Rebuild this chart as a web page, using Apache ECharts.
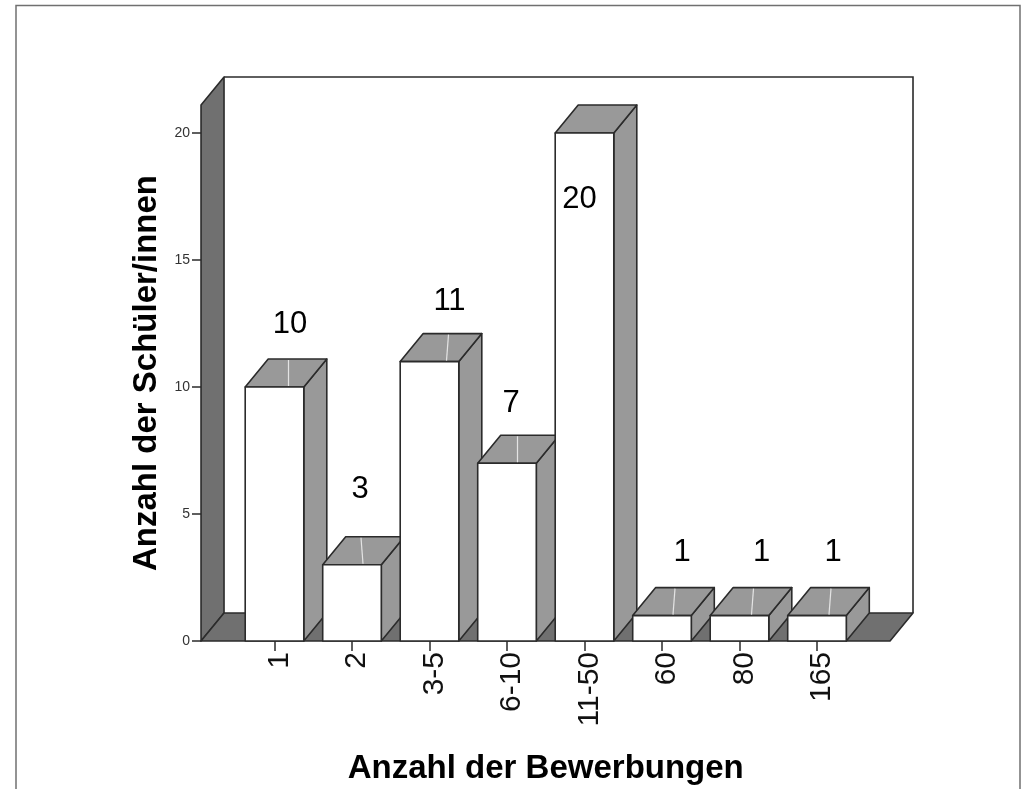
<!DOCTYPE html>
<html>
<head>
<meta charset="utf-8">
<style>
  html, body { margin: 0; padding: 0; background: #fff; }
  #chart { width: 1021px; height: 789px; }
</style>
<script src="https://cdn.jsdelivr.net/npm/echarts@6/dist/echarts.min.js"></script>
</head>
<body>
<div id="chart"></div>
<script>
var categories = ['1', '2', '3-5', '6-10', '11-50', '60', '80', '165'];
var schueler = [10, 3, 11, 7, 20, 1, 1, 1];
var yTicks = [0, 5, 10, 15, 20];
var xTitle = 'Anzahl der Bewerbungen';
var yTitle = 'Anzahl der Schüler/innen';

window.onload = function () {
    var myChart = echarts.init(document.getElementById('chart'));

    // look of the fake 3d box, all in pixels
    var depthX = 23;
    var depthY = 28;
    var wallTop = 21.1; // front edge of the wall, in axis units
    var lineColor = '#2b2b2b';
    var wallColor = '#707070';
    var faceColor = '#999999';
    var fontName = '"Liberation Sans", Arial, sans-serif';

    // nudge of each value label from the bar's front top center: dx, dy,
    // then the x of the pale leader line at the back and front of the top face
    var labelNudge = [
        [15.5, -63, 14, 14],
        [8, -75, 9, 11],
        [20, -60, 19, 17],
        [4, -60, 10.5, 10.5],
        [-5, 66, null, null],
        [20, -63, 13, 11],
        [22, -63, 14, 12],
        [16, -63, 14, 12]
    ];

    function poly(points, fill) {
        return {
            type: 'polygon',
            shape: { points: points },
            style: { fill: fill, stroke: lineColor, lineWidth: 1.6, lineJoin: 'round' }
        };
    }

    function renderBox(params, api) {
        var step = api.size([1, 0])[0];
        var y0 = api.coord([0, 0])[1];
        var yTop = api.coord([0, wallTop])[1];
        var x0 = api.coord([0, 0])[0] - step * 0.948;
        var x1 = api.coord([categories.length - 1, 0])[0] + step * 0.942;
        return {
            type: 'group',
            children: [
                // back plane
                {
                    type: 'polyline',
                    shape: { points: [[x0 + depthX, yTop - depthY], [x1 + depthX, yTop - depthY], [x1 + depthX, y0 - depthY]] },
                    style: { fill: null, stroke: lineColor, lineWidth: 1.6 }
                },
                poly([[x0, yTop], [x0 + depthX, yTop - depthY], [x0 + depthX, y0 - depthY], [x0, y0]], wallColor),
                poly([[x0, y0], [x0 + depthX, y0 - depthY], [x1 + depthX, y0 - depthY], [x1, y0]], wallColor)
            ]
        };
    }

    function renderBar(params, api) {
        var i = api.value(0);
        var val = api.value(1);
        var p = api.coord([i, val]);
        var base = api.coord([i, 0])[1];
        var half = api.size([1, 0])[0] * 0.378;
        var l = p[0] - half;
        var r = p[0] + half;
        var t = p[1];
        var n = labelNudge[i];
        var kids = [
            poly([[r, base], [r + depthX, base - depthY], [r + depthX, t - depthY], [r, t]], faceColor),
            poly([[l, t], [l + depthX, t - depthY], [r + depthX, t - depthY], [r, t]], faceColor),
            poly([[l, base], [l, t], [r, t], [r, base]], '#ffffff')
        ];
        if (n[2] !== null) {
            kids.push({
                type: 'line',
                shape: { x1: p[0] + n[2], y1: t - depthY + 1, x2: p[0] + n[3], y2: t - 1 },
                style: { stroke: '#e4e4e4', lineWidth: 1.2 }
            });
        }
        kids.push({
            type: 'text',
            x: p[0] + n[0],
            y: t + n[1],
            style: {
                text: String(val),
                fill: '#000000',
                font: '31px ' + fontName,
                align: 'center',
                verticalAlign: 'middle'
            }
        });
        return { type: 'group', children: kids };
    }

    var option = {
        animation: false,
        backgroundColor: '#ffffff',
        graphic: [
            {
                // frame of the original figure, open at the bottom
                type: 'polyline',
                shape: { points: [[16, 789], [16, 5.5], [1020, 5.5], [1020, 789]] },
                style: { fill: null, stroke: '#707070', lineWidth: 1.5 },
                silent: true
            }
        ],
        grid: { left: 235.75, top: 133, width: 620, height: 508, outerBoundsMode: 'none' },
        xAxis: {
            type: 'category',
            data: categories,
            name: xTitle,
            nameLocation: 'middle',
            nameGap: 111,
            nameTextStyle: { fontFamily: fontName, fontWeight: 'bold', fontSize: 33, color: '#000' },
            axisLine: { show: false },
            axisTick: { show: true, alignWithLabel: true, length: 10, lineStyle: { color: lineColor, width: 1.5 } },
            axisLabel: {
                rotate: 90,
                margin: 11,
                interval: 0,
                verticalAlign: 'top',
                lineHeight: 10,
                fontFamily: fontName,
                fontSize: 30,
                color: '#111'
            }
        },
        yAxis: {
            type: 'value',
            min: yTicks[0],
            max: yTicks[yTicks.length - 1],
            interval: yTicks[1] - yTicks[0],
            offset: 34.75,
            name: yTitle,
            nameLocation: 'middle',
            nameGap: 38,
            nameRotate: 90,
            nameTextStyle: { fontFamily: fontName, fontWeight: 'bold', fontSize: 33, color: '#000', padding: [0, 0, 0, 28] },
            splitLine: { show: false },
            axisLine: { show: false },
            axisTick: { show: true, length: 9, lineStyle: { color: lineColor, width: 1.5 } },
            axisLabel: { margin: 11, fontFamily: fontName, fontSize: 14, color: '#333' }
        },
        series: [
            {
                type: 'custom',
                name: 'box',
                silent: true,
                clip: false,
                z: 1,
                renderItem: renderBox,
                data: [[0, 0]]
            },
            {
                type: 'custom',
                name: yTitle,
                clip: false,
                z: 2,
                renderItem: renderBar,
                encode: { x: 0, y: 1 },
                data: schueler.map(function (v, i) { return [i, v]; })
            }
        ]
    };

    myChart.setOption(option);
};
</script>
</body>
</html>
